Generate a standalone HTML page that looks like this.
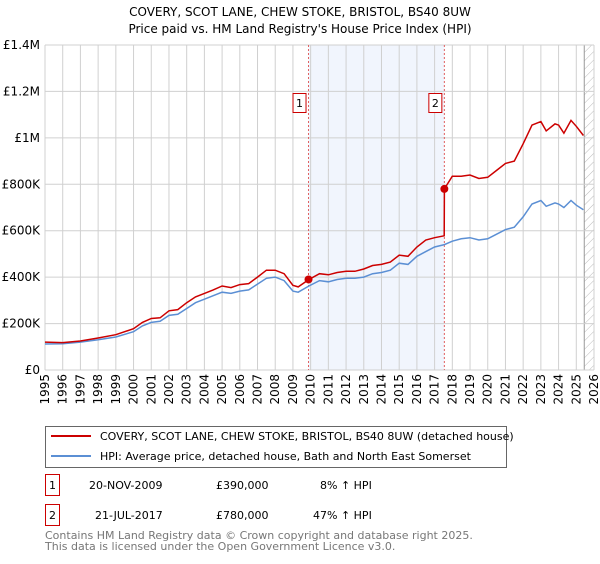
<!DOCTYPE html>
<html><head><meta charset="utf-8"><style>
body{margin:0;background:#fff;font-family:"DejaVu Sans","Liberation Sans",sans-serif;}
svg text{font-family:"DejaVu Sans","Liberation Sans",sans-serif;}
</style></head><body>
<svg id="c" width="600" height="560" xmlns="http://www.w3.org/2000/svg">
<defs><pattern id="hatch" width="6" height="6" patternUnits="userSpaceOnUse" patternTransform="rotate(45)"><line x1="0" y1="0" x2="0" y2="6" stroke="#bbb" stroke-width="1"/></pattern></defs>
<text x="300" y="16" text-anchor="middle" font-size="12">COVERY, SCOT LANE, CHEW STOKE, BRISTOL, BS40 8UW</text>
<text x="300" y="33" text-anchor="middle" font-size="12">Price paid vs. HM Land Registry's House Price Index (HPI)</text>
<g id="plot"></g>
<g>
<rect x="45.5" y="426.5" width="461" height="41" fill="#fff" stroke="#666"/>
<line x1="51" y1="436" x2="91" y2="436" stroke="#cc0000" stroke-width="2"/>
<text x="100" y="440" font-size="11">COVERY, SCOT LANE, CHEW STOKE, BRISTOL, BS40 8UW (detached house)</text>
<line x1="51" y1="456" x2="91" y2="456" stroke="#5b8fd4" stroke-width="2"/>
<text x="100" y="460" font-size="11">HPI: Average price, detached house, Bath and North East Somerset</text>
</g>
<g font-size="11">
<rect x="45.5" y="474.5" width="14" height="21" fill="#fff" stroke="#cc0000"/>
<text x="52.5" y="489" text-anchor="middle">1</text>
<text x="89" y="489">20-NOV-2009</text><text x="216" y="489">£390,000</text><text x="320" y="489">8% ↑ HPI</text>
<rect x="45.5" y="504.5" width="14" height="21" fill="#fff" stroke="#cc0000"/>
<text x="52.5" y="519" text-anchor="middle">2</text>
<text x="95" y="519">21-JUL-2017</text><text x="216" y="519">£780,000</text><text x="313" y="519">47% ↑ HPI</text>
</g>
<text x="45" y="539" font-size="11" fill="#777">Contains HM Land Registry data © Crown copyright and database right 2025.</text>
<text x="45" y="550" font-size="11" fill="#777">This data is licensed under the Open Government Licence v3.0.</text>
</svg>
<script>
const years=[1995,1996,1997,1998,1999,2000,2001,2002,2003,2004,2005,2006,2007,2008,2009,2010,2011,2012,2013,2014,2015,2016,2017,2018,2019,2020,2021,2022,2023,2024,2025,2026];
const yTicks=[0,200000,400000,600000,800000,1000000,1200000,1400000];
const yTickLabels=["£0","£200K","£400K","£600K","£800K","£1M","£1.2M","£1.4M"];
const hpiT=[1995,1996,1997,1998,1999,2000,2000.5,2001,2001.5,2002,2002.5,2003,2003.5,2004,2004.5,2005,2005.5,2006,2006.5,2007,2007.5,2008,2008.5,2009,2009.3,2009.9,2010.5,2011,2011.5,2012,2012.5,2013,2013.5,2014,2014.5,2015,2015.5,2016,2016.5,2017,2017.55,2018,2018.5,2019,2019.5,2020,2020.5,2021,2021.5,2022,2022.5,2023,2023.3,2023.8,2024,2024.3,2024.7,2025,2025.4];
const hpiV=[112,113,120,130,142,165,190,205,210,235,240,265,290,305,320,335,330,340,345,370,395,400,385,340,335,362,385,380,390,395,395,400,415,420,430,460,455,490,510,530,540,555,565,570,560,565,585,605,615,660,715,730,705,720,715,700,730,710,690];
const redT=[1995,1996,1997,1998,1999,2000,2000.5,2001,2001.5,2002,2002.5,2003,2003.5,2004,2004.5,2005,2005.5,2006,2006.5,2007,2007.5,2008,2008.5,2009,2009.3,2009.9,2010.5,2011,2011.5,2012,2012.5,2013,2013.5,2014,2014.5,2015,2015.5,2016,2016.5,2017,2017.54,2017.55,2018,2018.5,2019,2019.5,2020,2020.5,2021,2021.5,2022,2022.5,2023,2023.3,2023.8,2024,2024.3,2024.7,2025,2025.4];
const redV=[120,118,125,138,152,178,205,222,225,255,260,290,315,330,345,362,355,368,372,400,430,430,415,365,358,390,415,410,420,425,425,435,450,455,465,495,490,530,560,570,578,780,835,835,840,825,830,860,890,900,975,1055,1070,1030,1060,1055,1020,1075,1050,1010];
const saleT=[2009.88,2017.55];
const saleV=[390,780];
const saleLabels=["1","2"];
const L=45,R=594,T=45,B=370,x0=1995,x1=2026,ymax=1400000;
const X=t=>L+(t-x0)/(x1-x0)*(R-L);
const Y=v=>B-v/ymax*(B-T);
const NS="http://www.w3.org/2000/svg";
const g=document.getElementById('plot');
function mk(tag,attrs){const e=document.createElementNS(NS,tag);for(const k in attrs)e.setAttribute(k,attrs[k]);g.appendChild(e);return e;}
let e;
e=mk('rect',{x:X(saleT[0]),y:T,width:X(saleT[1])-X(saleT[0]),height:B-T,fill:'#eef3fc',opacity:0.8});


e=mk('rect',{x:X(2025.45),y:T,width:R-X(2025.45),height:B-T,fill:'url(#hatch)'});


mk('line',{x1:X(2025.45),y1:T,x2:X(2025.45),y2:B,stroke:'#999','stroke-width':1});
years.forEach(y=>{
 e=mk('line',{x1:X(y),y1:T,x2:X(y),y2:B,stroke:'#d0d0d0','stroke-width':1});
 
 
 const tx=X(y)+4, ty=374;
 e=mk('text',{x:tx,y:ty,'text-anchor':'end','font-size':12,transform:'rotate(-90 '+tx+' '+ty+')'});
 e.textContent=y;
 
 
});
yTicks.forEach((v,i)=>{
 e=mk('line',{x1:L,y1:Y(v),x2:R,y2:Y(v),stroke:'#d0d0d0','stroke-width':1});
 
 
 e=mk('text',{x:L-5,y:Y(v)+4,'text-anchor':'end','font-size':12});
 e.textContent=yTickLabels[i];
 
 
});
saleT.forEach((t,i)=>{
 e=mk('line',{x1:X(t),y1:T,x2:X(t),y2:B,stroke:'#e06060','stroke-width':1,'stroke-dasharray':'2,2'});
 
 
});
function path(ts,vs){return ts.map((t,i)=>(i?'L':'M')+X(t).toFixed(1)+','+Y(vs[i]*1000).toFixed(1)).join(' ');}
e=mk('path',{d:path(hpiT,hpiV),fill:'none',stroke:'#5b8fd4','stroke-width':1.5});


e=mk('path',{d:path(redT,redV),fill:'none',stroke:'#cc0000','stroke-width':1.5});


saleT.forEach((t,i)=>{
 e=mk('circle',{cx:X(t),cy:Y(saleV[i]*1000),r:4,fill:'#cc0000'});
 
 
 e=mk('rect',{x:X(t)-15.5,y:93.5,width:13,height:19,fill:'#fff',stroke:'#cc0000'});
 
 
 e=mk('text',{x:X(t)-9,y:107,'text-anchor':'middle','font-size':11});
 e.textContent=saleLabels[i];
 
 
});
</script>
</body></html>
